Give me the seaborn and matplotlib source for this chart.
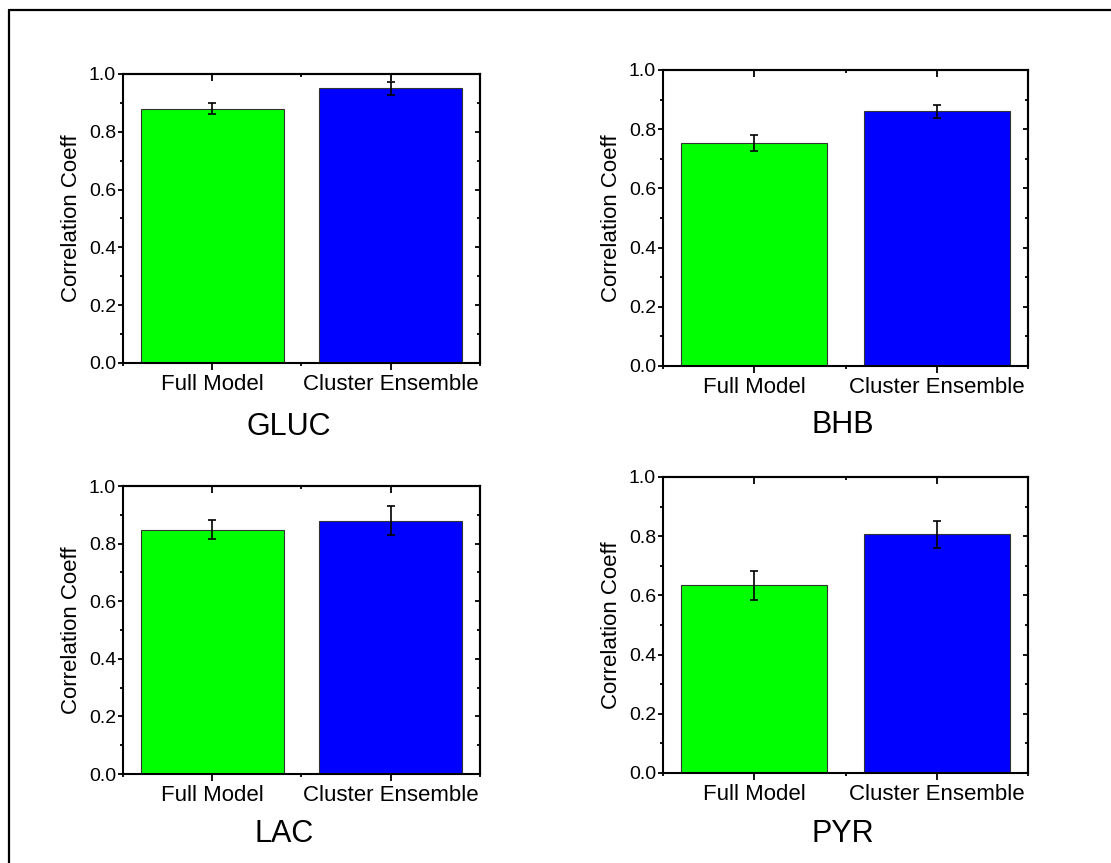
import numpy as np
import seaborn as sns
import matplotlib
matplotlib.use('Agg')
import matplotlib.pyplot as plt
from matplotlib.lines import Line2D


MODELS = ['Full Model', 'Cluster Ensemble']
BAR_COLORS = ['#00ff00', '#0000ff']
PANEL_NAMES = ['GLUC', 'BHB', 'LAC', 'PYR']

GLUC_CORR = [0.880, 0.950]
GLUC_ERR = [0.020, 0.022]
BHB_CORR = [0.753, 0.860]
BHB_ERR = [0.028, 0.022]
LAC_CORR = [0.849, 0.880]
LAC_ERR = [0.033, 0.050]
PYR_CORR = [0.634, 0.806]
PYR_ERR = [0.049, 0.045]

Y_TICKS = [0.0, 0.2, 0.4, 0.6, 0.8, 1.0]
Y_TICK_LABELS = ['0.0', '0.2', '0.4', '0.6', '0.8', '1.0']

# axes rectangles in figure fractions (left, bottom, width, height)
AX_RECTS = [
    (0.1107, 0.5794, 0.3213, 0.3349),
    (0.5968, 0.5759, 0.3285, 0.3430),
    (0.1107, 0.1031, 0.3213, 0.3337),
    (0.5968, 0.1043, 0.3285, 0.3430),
]
# (x, y) of the panel name in axes coords
NAME_POS = [(0.465, -0.248), (0.493, -0.228), (0.451, -0.236), (0.493, -0.233)]


def draw_panel(ax, name, corr, err, name_pos):
    sns.barplot(x=MODELS, y=corr, hue=MODELS, palette=BAR_COLORS,
                width=0.8, errorbar=None, legend=False, saturation=1,
                edgecolor='#333333', linewidth=0.8, ax=ax)
    ax.errorbar(np.arange(len(MODELS)), corr, yerr=err, fmt='none',
                ecolor='black', elinewidth=1.2, capsize=3, capthick=1.2,
                zorder=5)

    ax.set_xlim(-0.5, 1.5)
    ax.set_ylim(0, 1)
    ax.set_xticks([0, 1])
    ax.set_xticks([-0.5, 0.5, 1.5], minor=True)
    ax.set_yticks(Y_TICKS)
    ax.set_yticklabels(Y_TICK_LABELS)
    ax.set_yticks(np.arange(0.1, 1.0, 0.2), minor=True)
    ax.tick_params(axis='x', which='major', direction='out', length=5,
                   width=1.3, labelsize=16, pad=3, colors='black')
    ax.tick_params(axis='x', which='minor', direction='out', length=2.5,
                   width=1.3, colors='black')
    ax.tick_params(axis='y', which='major', direction='out', length=3.5,
                   width=1.3, labelsize=14, pad=1.5, colors='black')
    ax.tick_params(axis='y', which='minor', direction='out', length=2.5,
                   width=1.3, colors='black')
    for side in ['top', 'right', 'left', 'bottom']:
        ax.spines[side].set_visible(True)
        ax.spines[side].set_linewidth(1.5)
        ax.spines[side].set_color('black')

    # opposite spines carry inward ticks without labels
    top = ax.secondary_xaxis('top')
    top.set_xticks([0, 1])
    top.set_xticks([-0.5, 0.5, 1.5], minor=True)
    top.tick_params(which='major', direction='in', length=5, width=1.3,
                    labeltop=False, colors='black')
    top.tick_params(which='minor', direction='in', length=2.5, width=1.3,
                    colors='black')
    top.spines['top'].set_linewidth(1.5)
    right = ax.secondary_yaxis('right')
    right.set_yticks(Y_TICKS)
    right.set_yticks(np.arange(0.1, 1.0, 0.2), minor=True)
    right.tick_params(which='major', direction='in', length=3.5, width=1.3,
                      labelright=False, colors='black')
    right.tick_params(which='minor', direction='in', length=2.5, width=1.3,
                      colors='black')
    right.spines['right'].set_linewidth(1.5)

    ax.set_ylabel('Correlation Coeff', fontsize=16, labelpad=5,
                  color='black')
    ax.set_xlabel(name, fontsize=22, color='black')
    ax.xaxis.set_label_coords(*name_pos)
    ax.xaxis.label.set_verticalalignment('baseline')


def main():
    sns.set_style('ticks')
    plt.rcParams['font.family'] = ['Liberation Sans', 'DejaVu Sans']
    plt.rcParams['text.color'] = 'black'
    plt.rcParams['axes.labelcolor'] = 'black'

    fig = plt.figure(figsize=(11.11, 8.63), dpi=100)
    panel_data = [(GLUC_CORR, GLUC_ERR), (BHB_CORR, BHB_ERR),
                  (LAC_CORR, LAC_ERR), (PYR_CORR, PYR_ERR)]
    for rect, name, (corr, err), pos in zip(AX_RECTS, PANEL_NAMES,
                                            panel_data, NAME_POS):
        ax = fig.add_axes(rect)
        draw_panel(ax, name, corr, err, pos)

    # frame at top and left edge of the picture
    fig.add_artist(Line2D([9 / 1111, 1], [1 - 10 / 863, 1 - 10 / 863],
                          transform=fig.transFigure, color='black', lw=1.6))
    fig.add_artist(Line2D([9 / 1111, 9 / 1111], [0, 1 - 10 / 863],
                          transform=fig.transFigure, color='black', lw=1.6))

    fig.savefig('out.png', dpi=100)
    plt.close(fig)


if __name__ == '__main__':
    main()
